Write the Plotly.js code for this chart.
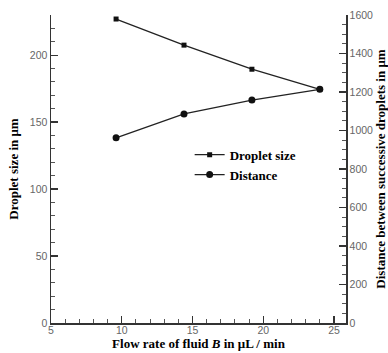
<!DOCTYPE html>
<html><head><meta charset="utf-8">
<script src="https://cdn.plot.ly/plotly-3.0.1.min.js"></script>
<style>html,body{margin:0;padding:0;background:#fff}</style>
</head><body><div id="chart" style="width:388px;height:353px"></div>
<script>
const flowRate = [9.6, 14.4, 19.2, 24];
const dropletSize = [227, 207.5, 189.5, 174.5];
const distance = [962, 1086, 1158, 1214];

const serif = 'Liberation Serif, Times New Roman, serif';
const sans = 'Liberation Sans, Arial, sans-serif';

const data = [
  {x: flowRate, y: dropletSize, name: '<b>Droplet size</b>', mode: 'lines+markers', type: 'scatter',
   line: {color: '#222', width: 1.3}, marker: {symbol: 'square', size: 5, color: '#111'}},
  {x: flowRate, y: distance, name: '<b>Distance</b>', mode: 'lines+markers', type: 'scatter', yaxis: 'y2',
   line: {color: '#222', width: 1.3}, marker: {symbol: 'circle', size: 7, color: '#111'}}
];

const layout = {
  width: 388, height: 353,
  margin: {l: 51, r: 42, t: 15, b: 30},
  paper_bgcolor: '#fff', plot_bgcolor: '#fff',
  showlegend: true,
  legend: {x: 0.47, y: 0.595, xanchor: 'left', yanchor: 'top', bgcolor: 'rgba(0,0,0,0)',
           font: {family: serif, size: 13, color: '#000'}, tracegroupgap: 0},
  xaxis: {
    range: [5, 25.85], dtick: 5, tick0: 5, ticks: 'inside', ticklen: 7, tickwidth: 1.3, tickcolor: '#333',
    showline: true, linecolor: '#333', linewidth: 1.5, showgrid: false, zeroline: false,
    minor: {dtick: 1, ticks: 'inside', ticklen: 4, tickcolor: '#555', tickwidth: 1},
    tickfont: {family: sans, size: 10.5, color: '#666'}, ticklabelstandoff: -3,
    title: {text: '<b>Flow rate of fluid <i>B</i> in μL / min</b>', font: {family: serif, size: 13, color: '#000'}, standoff: 0}
  },
  yaxis: {
    range: [0, 230], dtick: 50, ticks: 'inside', ticklen: 7, tickwidth: 1.3, tickcolor: '#333',
    showline: true, linecolor: '#333', linewidth: 1.5, showgrid: false, zeroline: false,
    minor: {dtick: 10, ticks: 'inside', ticklen: 4, tickcolor: '#555', tickwidth: 1},
    tickfont: {family: sans, size: 10.5, color: '#666'},
    title: {text: '<b>Droplet size in μm</b>', font: {family: serif, size: 13, color: '#000'}, standoff: 8}
  },
  yaxis2: {
    overlaying: 'y', side: 'right', range: [0, 1600], dtick: 200, ticks: 'inside', ticklen: 7, tickwidth: 1.3, tickcolor: '#333',
    showline: true, linecolor: '#333', linewidth: 1.5, showgrid: false, zeroline: false,
    minor: {dtick: 50, ticks: 'inside', ticklen: 4, tickcolor: '#555', tickwidth: 1},
    tickfont: {family: sans, size: 10.5, color: '#666'},
    title: {text: '<b>Distance between successive droplets in μm</b>', font: {family: serif, size: 13, color: '#000'}, standoff: 5}
  }
};

Plotly.newPlot('chart', data, layout, {displayModeBar: false, staticPlot: true});
</script>
</body></html>
